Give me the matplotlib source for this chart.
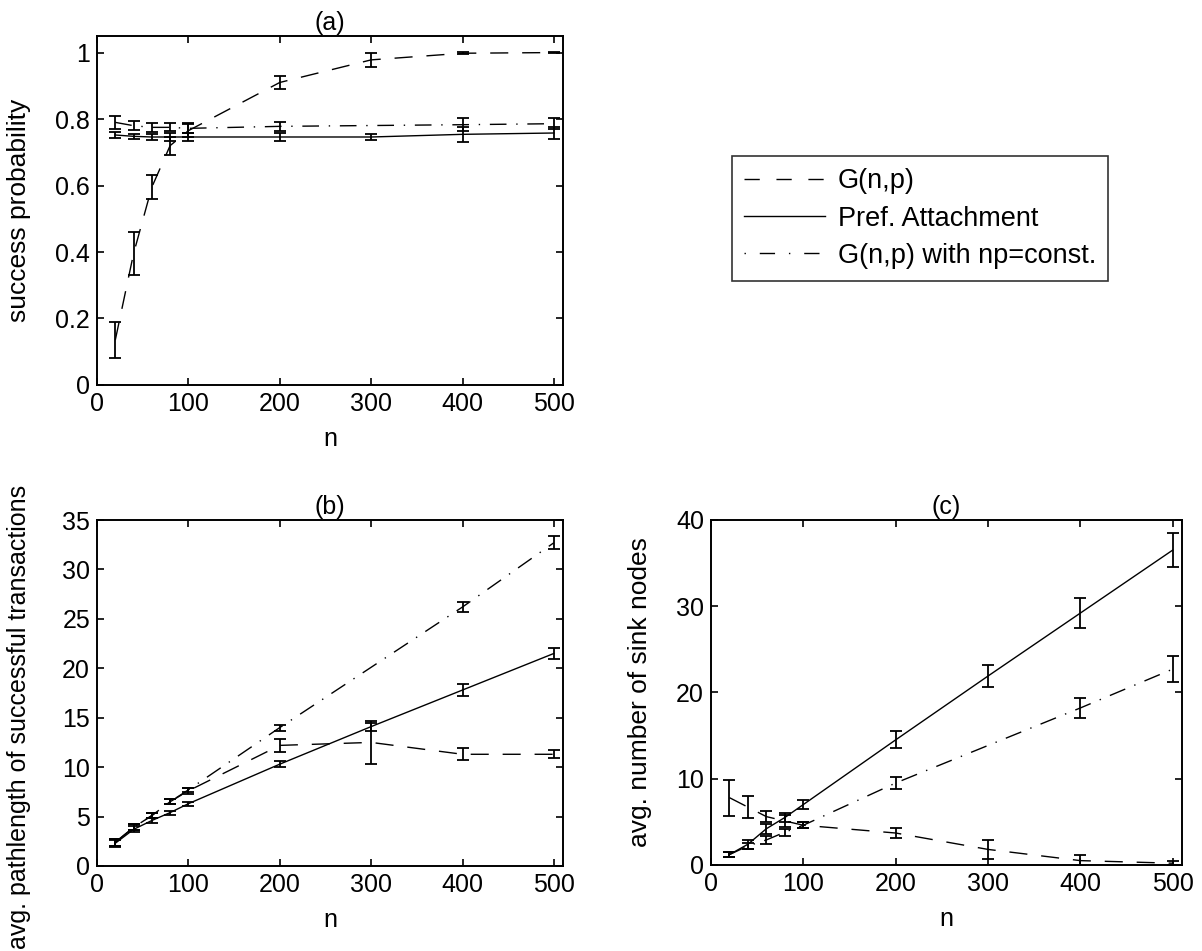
import matplotlib
matplotlib.use("Agg")
import matplotlib.pyplot as plt
from matplotlib.lines import Line2D

plt.rcParams["font.family"] = ["Liberation Sans", "DejaVu Sans"]
FS = 18

# network sizes
n_all = [20, 40, 60, 80, 100, 200, 300, 400, 500]
n_const = [20, 40, 60, 80, 100, 200, 400, 500]

# (a) success probability
succ_gnp = [0.135, 0.395, 0.595, 0.72, 0.765, 0.91, 0.978, 0.998, 1.0]
succ_gnp_err = [0.055, 0.065, 0.037, 0.027, 0.02, 0.02, 0.02, 0.003, 0.002]
succ_pa = [0.752, 0.748, 0.746, 0.746, 0.746, 0.746, 0.746, 0.754, 0.758]
succ_pa_err = [0.01, 0.008, 0.01, 0.012, 0.012, 0.012, 0.01, 0.022, 0.018]
succ_const = [0.79, 0.78, 0.775, 0.775, 0.772, 0.778, 0.783, 0.786]
succ_const_err = [0.02, 0.013, 0.013, 0.012, 0.015, 0.013, 0.02, 0.017]

# (b) avg. pathlength
path_gnp = [2.4, 3.9, 5.1, 6.5, 7.6, 12.2, 12.5, 11.3, 11.3]
path_gnp_err = [0.35, 0.3, 0.25, 0.25, 0.3, 0.65, 2.15, 0.6, 0.4]
path_pa = [2.3, 3.7, 4.6, 5.4, 6.3, 10.3, 14.1, 17.8, 21.5]
path_pa_err = [0.35, 0.3, 0.25, 0.2, 0.2, 0.3, 0.4, 0.65, 0.6]
path_const = [2.4, 3.9, 5.1, 6.5, 7.7, 14.0, 26.2, 32.7]
path_const_err = [0.35, 0.3, 0.25, 0.25, 0.2, 0.3, 0.55, 0.65]

# (c) avg. number of sink nodes
sink_gnp = [7.8, 6.7, 5.6, 5.1, 4.6, 3.7, 1.8, 0.5, 0.2]
sink_gnp_err = [2.1, 1.3, 0.6, 0.7, 0.35, 0.55, 1.1, 0.6, 0.2]
sink_pa = [1.2, 2.4, 4.2, 5.5, 7.0, 14.5, 21.9, 29.2, 36.5]
sink_pa_err = [0.3, 0.5, 0.6, 0.5, 0.5, 1.0, 1.25, 1.7, 2.0]
sink_const = [1.2, 2.2, 2.9, 3.8, 4.6, 9.5, 18.2, 22.7]
sink_const_err = [0.3, 0.4, 0.45, 0.4, 0.35, 0.65, 1.15, 1.5]

DASH = (0, (13, 10))
DASHDOT = (0, (12, 7, 1, 7))


def panel(ax, gnp, gnp_err, pa, pa_err, const, const_err):
    for x, y, e, ls in [
        (n_all, gnp, gnp_err, DASH),
        (n_all, pa, pa_err, "-"),
        (n_const, const, const_err, DASHDOT),
    ]:
        ax.plot(x, y, color="black", lw=1.0, linestyle=ls)
        ax.errorbar(x, y, yerr=e, fmt="none", ecolor="black", elinewidth=1.3,
                    capsize=4.5, capthick=1.3)
    ax.set_xlim(0, 510)
    ax.set_xticks([0, 100, 200, 300, 400, 500])
    ax.tick_params(direction="in", top=True, right=True, length=5, width=1.2,
                   labelsize=FS, pad=5)
    for s in ax.spines.values():
        s.set_linewidth(1.4)
    ax.set_xlabel("n", fontsize=FS, labelpad=8)


fig = plt.figure(figsize=(12.02, 9.51), dpi=100)
ax_a = fig.add_axes([0.0807, 0.5952, 0.3877, 0.367])
ax_b = fig.add_axes([0.0807, 0.0894, 0.3877, 0.3638])
ax_c = fig.add_axes([0.5915, 0.0905, 0.3918, 0.3628])

panel(ax_a, succ_gnp, succ_gnp_err, succ_pa, succ_pa_err, succ_const, succ_const_err)
ax_a.set_ylim(0, 1.05)
ax_a.set_yticks([0, 0.2, 0.4, 0.6, 0.8, 1])
ax_a.set_yticklabels(["0", "0.2", "0.4", "0.6", "0.8", "1"])
ax_a.set_title("(a)", fontsize=FS, pad=4)
ax_a.set_ylabel("success probability", fontsize=19)
ax_a.yaxis.set_label_coords(-0.142, 0.5)

panel(ax_b, path_gnp, path_gnp_err, path_pa, path_pa_err, path_const, path_const_err)
ax_b.set_ylim(0, 35)
ax_b.set_yticks(range(0, 36, 5))
ax_b.set_title("(b)", fontsize=FS, pad=4)
ax_b.set_ylabel("avg. pathlength of successful transactions", fontsize=18)
ax_b.yaxis.set_label_coords(-0.142, 0.43)

panel(ax_c, sink_gnp, sink_gnp_err, sink_pa, sink_pa_err, sink_const, sink_const_err)
ax_c.set_ylim(0, 40)
ax_c.set_yticks(range(0, 41, 10))
ax_c.set_title("(c)", fontsize=FS, pad=4)
ax_c.set_ylabel("avg. number of sink nodes", fontsize=19)
ax_c.yaxis.set_label_coords(-0.125, 0.5)

handles = [
    Line2D([], [], color="black", lw=1.0, linestyle=(0, (11, 12))),
    Line2D([], [], color="black", lw=1.0, linestyle="-"),
    Line2D([], [], color="black", lw=1.0, linestyle=(0, (1, 10, 11, 10))),
]
labels = ["G(n,p)", "Pref. Attachment", "G(n,p) with np=const."]
leg = fig.legend(handles, labels, loc="upper left",
                 bbox_to_anchor=(732 / 1202, 1 - 156 / 951),
                 handlelength=3.0, handletextpad=0.45, labelspacing=0.42,
                 borderpad=0.45, borderaxespad=0, fontsize=19.5,
                 fancybox=False, frameon=True, edgecolor="black")
leg.get_frame().set_linewidth(1.2)

fig.savefig("out.png", dpi=100)
